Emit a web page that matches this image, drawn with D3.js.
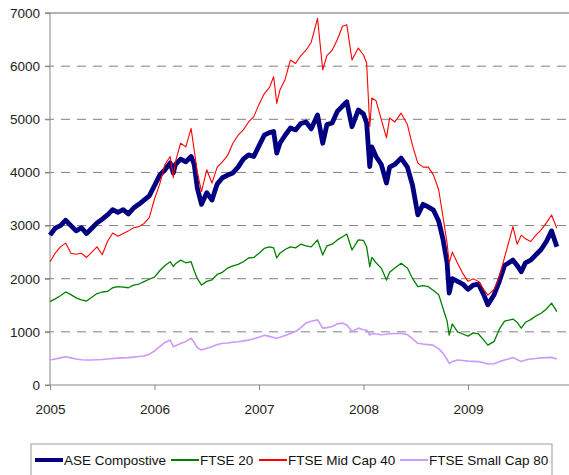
<!DOCTYPE html>
<html>
<head>
<meta charset="utf-8">
<script src="https://cdn.jsdelivr.net/npm/d3@7"></script>
<style>
  body { margin: 0; background: #fff; }
  svg { display: block; font-family: "Liberation Sans", Arial, sans-serif; }
</style>
</head>
<body>
<div id="chart"></div>
<script>
// time in years since start of 2005
var years = [0, 0.05, 0.1, 0.15, 0.2, 0.25, 0.3, 0.35, 0.4, 0.45, 0.5, 0.55, 0.6, 0.65, 0.7, 0.75, 0.8, 0.85, 0.9, 0.95,
    1.0, 1.05, 1.1, 1.15, 1.18, 1.2, 1.25, 1.3, 1.35, 1.38, 1.41, 1.45, 1.5, 1.55, 1.6, 1.65, 1.7, 1.75, 1.8, 1.85, 1.9, 1.95,
    2.0, 2.05, 2.1, 2.14, 2.17, 2.2, 2.25, 2.3, 2.35, 2.4, 2.45, 2.5, 2.56, 2.61, 2.65, 2.7, 2.75, 2.8, 2.84, 2.89, 2.95,
    3.0, 3.03, 3.06, 3.08, 3.12, 3.17, 3.22, 3.25, 3.3, 3.36, 3.42, 3.47, 3.52, 3.57, 3.62, 3.67, 3.72, 3.76, 3.8, 3.82, 3.85, 3.9, 3.95,
    4.0, 4.05, 4.1, 4.15, 4.19, 4.25, 4.3, 4.35, 4.43, 4.47, 4.51, 4.55, 4.6, 4.65, 4.7, 4.75, 4.8, 4.85];

var aseComposite = [2820, 2950, 3000, 3100, 3000, 2900, 2960, 2850, 2950, 3050, 3120, 3200, 3300, 3250, 3300, 3220, 3330, 3400, 3480, 3560,
    3750, 3950, 4050, 4180, 3990, 4150, 4250, 4200, 4300, 4150, 3700, 3400, 3620, 3480, 3780, 3900, 3950, 3990, 4100, 4250, 4330, 4300,
    4500, 4700, 4750, 4770, 4365, 4550, 4700, 4835, 4800, 4920, 4950, 4820, 5080, 4550, 4900, 4930, 5150, 5250, 5330, 4860, 5175,
    5100, 4930, 4110, 4480, 4300, 4150, 3800, 4100, 4150, 4270, 4100, 3750, 3200, 3400, 3350, 3290, 3080, 2750, 2300, 1730, 2000, 1950, 1900,
    1800, 1880, 1900, 1700, 1510, 1700, 1950, 2250, 2350, 2250, 2130, 2300, 2350, 2450, 2550, 2700, 2900, 2600];

var ftse20 = [1570, 1620, 1680, 1750, 1700, 1640, 1600, 1580, 1650, 1720, 1750, 1760, 1830, 1850, 1840, 1830, 1880, 1900, 1945, 1990,
    2030, 2150, 2250, 2320, 2230, 2280, 2350, 2300, 2320, 2150, 2000, 1880, 1950, 1980, 2080, 2120, 2200, 2240, 2270, 2320, 2390, 2400,
    2480, 2570, 2600, 2580, 2390, 2480, 2550, 2600, 2580, 2650, 2620, 2600, 2730, 2445, 2620, 2650, 2730, 2790, 2840, 2540, 2730,
    2720, 2600, 2225, 2400, 2300, 2200, 1975, 2120, 2200, 2290, 2200, 2000, 1850, 1870, 1850, 1780, 1700, 1450, 1200, 940, 1150, 1000, 960,
    920, 980, 960, 850, 750, 820, 1050, 1200, 1240, 1180, 1070, 1180, 1230, 1300, 1350, 1430, 1540, 1380];

var ftseMid40 = [2320, 2480, 2600, 2670, 2480, 2460, 2480, 2400, 2500, 2600, 2450, 2700, 2860, 2800, 2850, 2900, 2960, 2980, 3040, 3150,
    3500, 3780, 4150, 4300, 3900, 4200, 4550, 4480, 4830, 4420, 4000, 3640, 4050, 3800, 4100, 4200, 4320, 4550, 4700, 4800, 4950, 5050,
    5280, 5480, 5600, 5800, 5300, 5550, 5750, 6115, 6050, 6200, 6300, 6450, 6900, 5930, 6200, 6300, 6500, 6750, 6780, 6115, 6340,
    6210, 6060, 4860, 5400, 5350, 5000, 4650, 5025, 4950, 5115, 4900, 4500, 4175, 4100, 4100, 3950, 3670, 3170, 2670, 2290, 2500, 2290, 2100,
    1950, 2000, 1950, 1800, 1690, 1800, 2040, 2400, 2980, 2650, 2820, 2750, 2700, 2820, 2920, 3050, 3200, 2950];

var ftseSmall80 = [470, 490, 510, 530, 510, 490, 475, 470, 470, 475, 480, 490, 500, 505, 510, 515, 525, 535, 545, 580,
    640, 720, 800, 845, 720, 740, 780, 820, 880, 800, 700, 660, 690, 720, 760, 785, 790, 805, 815, 830, 845, 870,
    900, 935, 915, 895, 880, 900, 930, 970, 1005, 1080, 1165, 1200, 1225, 1070, 1080, 1100, 1150, 1165, 1130, 1005, 1070,
    1040, 1035, 940, 970, 960, 945, 955, 965, 970, 970, 950, 870, 785, 770, 760, 745, 680, 600, 480, 405, 440, 470, 460,
    450, 445, 440, 420, 395, 400, 440, 470, 515, 480, 440, 470, 490, 500, 510, 515, 520, 490];

var seriesNames = ["ASE Compostive", "FTSE 20", "FTSE Mid Cap 40", "FTSE Small Cap 80"];
var yTicks = [0, 1000, 2000, 3000, 4000, 5000, 6000, 7000];
var xTicks = [2005, 2006, 2007, 2008, 2009];

var width = 569, height = 475;
var plot = {left: 50, top: 13, bottom: 385, right: 572.5};

var series = [
    {name: seriesNames[0], values: aseComposite, color: "#000080", width: 4.8},
    {name: seriesNames[1], values: ftse20, color: "#008000", width: 1.3},
    {name: seriesNames[2], values: ftseMid40, color: "#ff0000", width: 1.1},
    {name: seriesNames[3], values: ftseSmall80, color: "#cc99ff", width: 1.6}
];

var x = d3.scaleLinear()
    .domain([2005, 2010])
    .range([plot.left, plot.right]);

var y = d3.scaleLinear()
    .domain([0, 7000])
    .range([plot.bottom, plot.top]);

var svg = d3.select("#chart").append("svg")
    .attr("width", width)
    .attr("height", height);

// gridlines (dashed), top one solid
svg.selectAll(".grid")
    .data(yTicks.filter(function (d) { return d > 0; }))
    .enter().append("line")
    .attr("class", "grid")
    .attr("x1", plot.left - 5)
    .attr("x2", width)
    .attr("y1", function (d) { return y(d); })
    .attr("y2", function (d) { return y(d); })
    .style("stroke", function (d) { return d == 7000 ? "#9a9a9a" : "#808080"; })
    .style("stroke-width", function (d) { return d == 7000 ? 1.5 : 1; })
    .style("stroke-dasharray", function (d) { return d == 7000 ? null : "9,7"; });

// y axis
var yAxis = d3.axisLeft(y)
    .tickValues(yTicks)
    .tickFormat(d3.format("d"))
    .tickSize(5)
    .tickPadding(5);

var gy = svg.append("g")
    .attr("transform", "translate(" + plot.left + ",0)")
    .call(yAxis);
gy.select(".domain").remove();
gy.append("line")
    .attr("y1", plot.top)
    .attr("y2", plot.bottom)
    .style("stroke", "#868686");
gy.selectAll(".tick line").style("stroke", "#868686");
gy.selectAll("text")
    .style("font-size", "13.5px")
    .style("fill", "#222");

// x axis
var xAxis = d3.axisBottom(x)
    .tickValues(xTicks)
    .tickFormat(d3.format("d"))
    .tickSize(5)
    .tickPadding(14);

var gx = svg.append("g")
    .attr("transform", "translate(0," + plot.bottom + ")")
    .call(xAxis);
gx.select(".domain").remove();
gx.append("line")
    .attr("x1", plot.left - 5)
    .attr("x2", width)
    .style("stroke", "#868686");
gx.selectAll(".tick line").style("stroke", "#868686");
gx.selectAll("text")
    .style("font-size", "13.5px")
    .style("fill", "#222");

// lines
var line = d3.line()
    .x(function (d) { return x(2005 + d[0]); })
    .y(function (d) { return y(d[1]); });

svg.selectAll(".series")
    .data(series)
    .enter().append("path")
    .attr("class", "series")
    .attr("d", function (s) {
        return line(years.map(function (t, i) { return [t, s.values[i]]; }));
    })
    .style("fill", "none")
    .style("stroke", function (s) { return s.color; })
    .style("stroke-width", function (s) { return s.width; })
    .style("stroke-linejoin", "round");

// legend
var legend = svg.append("g").attr("class", "legend");
legend.append("rect")
    .attr("x", 31)
    .attr("y", 444)
    .attr("width", 521)
    .attr("height", 40)
    .style("fill", "#fff")
    .style("stroke", "#9a9a9a");

var legendX = [35, 171, 259, 400];
var item = legend.selectAll(".item")
    .data(series)
    .enter().append("g")
    .attr("class", "item")
    .attr("transform", function (d, i) { return "translate(" + legendX[i] + ",460)"; });

item.append("line")
    .attr("x1", 0)
    .attr("x2", 28)
    .style("stroke", function (d) { return d.color; })
    .style("stroke-width", function (d) { return d.width < 2 ? 2 : 4; });

item.append("text")
    .attr("x", 29)
    .attr("dy", ".36em")
    .style("font-size", "13.5px")
    .style("fill", "#111")
    .text(function (d) { return d.name; });
</script>
</body>
</html>
